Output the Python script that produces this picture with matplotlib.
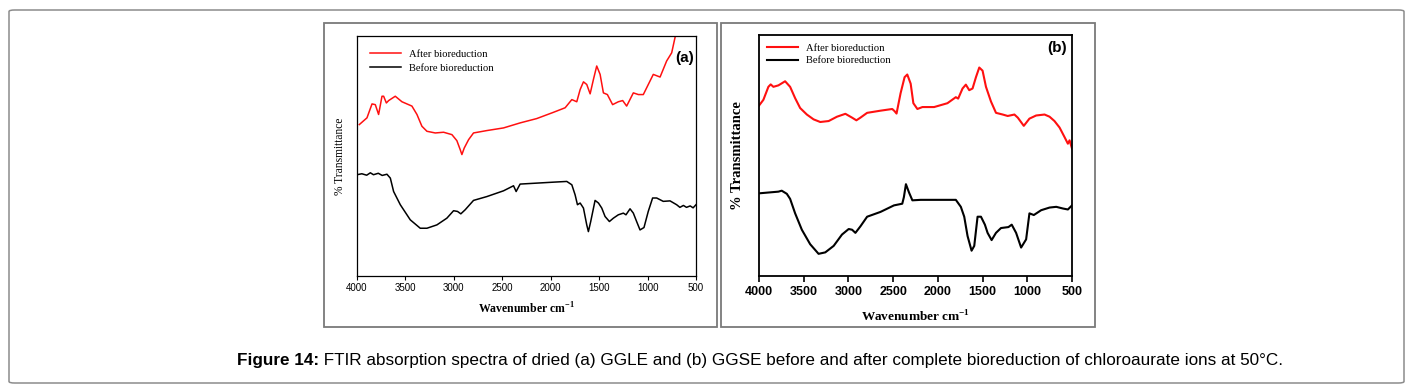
import numpy as np
import matplotlib
matplotlib.use('Agg')
import matplotlib.pyplot as plt
from matplotlib.patches import Rectangle, FancyBboxPatch
from matplotlib.transforms import offset_copy

# ---- data (arbitrary transmittance units) ----
# panel (a) GGLE
wn_a_after = [3976, 3897, 3845, 3811, 3777, 3742, 3725, 3697, 3673, 3605, 3536, 3433,
              3381, 3330, 3278, 3192, 3106, 3020, 2969, 2934, 2917, 2893, 2848, 2797,
              2659, 2487, 2315, 2144, 1972, 1851, 1782, 1731, 1696, 1662, 1628, 1593,
              1559, 1525, 1490, 1456, 1415, 1361, 1302, 1257, 1216, 1147, 1095, 1044,
              941, 871, 803, 751, 717, 693]
t_a_after = [63.1, 65.9, 71.7, 71.4, 67.3, 74.9, 74.9, 72.1, 73.1, 74.9, 72.6, 70.8,
             67.3, 62.4, 60.3, 59.6, 59.9, 58.9, 56.4, 52.6, 50.6, 53.3, 56.8, 59.6,
             60.6, 61.7, 63.8, 65.6, 68.2, 70.1, 73.5, 72.6, 77.7, 80.9, 79.8, 75.9,
             81.9, 87.5, 84.0, 76.3, 75.6, 71.4, 72.6, 73.1, 70.8, 76.3, 75.6, 75.6,
             84.0, 82.9, 89.6, 93.0, 99.3, 103.0]

wn_a_before = [4000, 3950, 3900, 3862, 3830, 3780, 3740, 3691, 3656, 3622, 3553, 3450,
               3347, 3278, 3175, 3072, 3003, 2962, 2928, 2883, 2797, 2659, 2487, 2384,
               2357, 2316, 2144, 1972, 1834, 1782, 1748, 1724, 1696, 1662, 1628, 1611,
               1587, 1542, 1507, 1473, 1439, 1394, 1353, 1302, 1250, 1223, 1181, 1147,
               1113, 1078, 1037, 993, 948, 906, 838, 768, 700, 666, 630, 598, 560, 530, 500]
t_a_before = [42.2, 42.6, 42.0, 43.0, 42.2, 42.8, 41.9, 42.4, 40.8, 35.2, 29.7, 23.4,
              19.9, 19.9, 21.3, 24.1, 27.2, 26.9, 25.9, 27.6, 31.5, 33.1, 35.5, 37.6,
              35.2, 38.3, 38.7, 39.1, 39.4, 38.0, 33.8, 29.7, 30.4, 28.3, 21.3, 18.5,
              22.7, 31.5, 30.4, 28.3, 24.8, 22.7, 24.1, 25.5, 26.2, 25.5, 28.0, 26.2,
              22.7, 19.2, 20.2, 26.9, 32.5, 32.5, 31.1, 31.3, 29.7, 28.6, 29.4, 28.6,
              29.2, 28.4, 29.7]

# panel (b) GGSE
wn_b_after = [4000, 3951, 3895, 3869, 3839, 3783, 3708, 3652, 3596, 3540, 3465, 3390,
              3315, 3221, 3128, 3034, 2959, 2911, 2866, 2791, 2641, 2510, 2484, 2462,
              2417, 2372, 2342, 2304, 2274, 2229, 2173, 2042, 1893, 1799, 1773, 1724,
              1687, 1649, 1612, 1574, 1537, 1500, 1462, 1406, 1350, 1275, 1219, 1144,
              1106, 1039, 976, 901, 807, 751, 696, 639, 583, 546, 527, 500]
t_b_after = [70.7, 73.1, 78.5, 79.5, 78.5, 79.1, 80.8, 78.5, 73.8, 69.7, 67.0, 65.0,
             63.9, 64.3, 66.1, 67.3, 65.7, 64.6, 65.7, 67.7, 68.6, 69.3, 68.4, 67.4,
             75.8, 82.5, 83.6, 79.8, 71.7, 69.3, 70.1, 70.1, 71.7, 74.2, 73.6, 77.8,
             79.4, 77.1, 77.8, 82.5, 86.5, 85.2, 78.5, 72.4, 67.7, 67.0, 66.4, 67.0,
             65.7, 62.3, 65.3, 66.6, 67.0, 66.1, 64.3, 61.6, 57.6, 54.9, 56.3, 52.9]

wn_b_before = [4000, 3876, 3783, 3746, 3689, 3652, 3596, 3521, 3428, 3334, 3259, 3165,
               3072, 2997, 2959, 2922, 2866, 2791, 2641, 2491, 2398, 2380, 2357, 2323,
               2285, 2192, 2005, 1799, 1743, 1705, 1668, 1623, 1593, 1556, 1518, 1474,
               1444, 1399, 1350, 1294, 1211, 1174, 1125, 1069, 1013, 976, 927, 845,
               751, 676, 601, 546, 500]
t_b_before = [34.3, 34.7, 35.0, 35.4, 34.1, 32.0, 26.0, 19.2, 13.2, 9.2, 9.8, 12.5,
              17.2, 19.5, 19.2, 17.9, 20.6, 24.6, 26.6, 29.3, 30.0, 32.7, 38.1, 34.7,
              31.4, 31.6, 31.6, 31.6, 28.7, 24.6, 16.6, 10.5, 12.5, 24.6, 24.6, 21.3,
              17.9, 14.9, 17.9, 19.9, 20.3, 21.3, 17.9, 11.8, 15.2, 26.0, 25.3, 27.3,
              28.4, 28.7, 28.0, 27.6, 29.3]

xticks = [4000, 3500, 3000, 2500, 2000, 1500, 1000, 500]
legend_labels = ['After bioreduction', 'Before bioreduction']

serif = 'Liberation Serif'
sans = 'Liberation Sans'
plt.rcParams['mathtext.fontset'] = 'custom'
plt.rcParams['mathtext.rm'] = serif
plt.rcParams['mathtext.bf'] = serif + ':bold'

W, H = 1412, 389
fig = plt.figure(figsize=(W / 100, H / 100), dpi=100)


def px_rect(x0, y0, x1, y1):
    # pixel box (top-left origin) -> figure fraction
    return [x0 / W, 1 - y1 / H, (x1 - x0) / W, (y1 - y0) / H]


# outer rounded frame and panel boxes
fig.patches.append(FancyBboxPatch((9 / W, 1 - 383 / H), 1395 / W, 373 / H,
                                  boxstyle='round,pad=0,rounding_size=0.004',
                                  transform=fig.transFigure, fill=False,
                                  edgecolor='#8c8c8c', linewidth=1.1))
for x0, x1 in [(324, 717), (721, 1095)]:
    r = px_rect(x0, 23, x1, 327)
    fig.patches.append(Rectangle((r[0], r[1]), r[2], r[3], transform=fig.transFigure,
                                 fill=False, edgecolor='#7a7a7a', linewidth=1.3))

# ---- panel (a) ----
ax = fig.add_axes(px_rect(357, 36, 696, 276))
ax.plot(wn_a_after, t_a_after, color='#ff1010', lw=1.1, label=legend_labels[0])
ax.plot(wn_a_before, t_a_before, color='black', lw=1.1, label=legend_labels[1])
ax.set_xlim(4000, 500)
ax.set_ylim(0, 100)
ax.set_xticks(xticks)
ax.set_yticks([])
ax.tick_params(axis='x', direction='out', length=3, width=0.8, pad=2, labelsize=7)
for lbl in ax.get_xticklabels():
    lbl.set_fontfamily(sans)
for s in ax.spines.values():
    s.set_linewidth(0.9)
ax.set_xlabel('Wavenumber cm$^{\\mathbf{-1}}$', fontfamily=serif, fontweight='bold',
              fontsize=8.5, labelpad=6)
ax.set_ylabel('% Transmittance', fontfamily=serif, fontsize=8.3, labelpad=8)
ax.legend(loc='upper left', bbox_to_anchor=(0.0, 1.0), frameon=False,
          prop={'family': serif, 'size': 7.6}, handlelength=2.9, handletextpad=0.75,
          labelspacing=0.45, borderaxespad=0.85)
ax.text(0.995, 0.91, '(a)', transform=ax.transAxes, ha='right', va='center',
        fontfamily=sans, fontweight='bold', fontsize=11)

# ---- panel (b) ----
bx = fig.add_axes(px_rect(759, 35, 1072, 276))
bx.plot(wn_b_after, t_b_after, color='#ff1010', lw=1.5, label=legend_labels[0])
bx.plot(wn_b_before, t_b_before, color='black', lw=1.5, label=legend_labels[1])
bx.set_xlim(4000, 500)
bx.set_ylim(0, 100)
bx.set_xticks(xticks)
bx.set_yticks([])
bx.tick_params(axis='x', direction='out', length=4, width=1.2, pad=3, labelsize=9)
for lbl in bx.get_xticklabels():
    lbl.set_fontfamily(sans)
    lbl.set_fontweight('bold')
for s in bx.spines.values():
    s.set_linewidth(1.3)
bx.set_xlabel('Wavenumber cm$^{\\mathbf{-1}}$', fontfamily=serif, fontweight='bold',
              fontsize=9.5, labelpad=8)
bx.set_ylabel('% Transmittance', fontfamily=serif, fontweight='bold', fontsize=10.5,
              labelpad=11)
bx.legend(loc='upper left', bbox_to_anchor=(0.0, 1.0), frameon=False,
          prop={'family': serif, 'size': 7.6}, handlelength=2.9, handletextpad=0.75,
          labelspacing=0.3, borderaxespad=0.4)
bx.text(0.985, 0.945, '(b)', transform=bx.transAxes, ha='right', va='center',
        fontfamily=sans, fontweight='bold', fontsize=11)

# ---- caption (bold lead-in followed by plain text) ----
cap_bold = 'Figure 14:'
cap_rest = (' FTIR absorption spectra of dried (a) GGLE and (b) GGSE before and after '
            'complete bioreduction of chloroaurate ions at 50°C.')
t1 = fig.text(237 / W, 1 - 360 / H, cap_bold, ha='left', va='center',
              fontfamily=sans, fontweight='bold', fontsize=12.3)
renderer = fig.canvas.get_renderer()
w1 = t1.get_window_extent(renderer).width
fig.text(237 / W, 1 - 360 / H, cap_rest, ha='left', va='center', fontfamily=sans,
         fontsize=12.3, transform=offset_copy(fig.transFigure, fig=fig, x=w1 * 72 / fig.dpi,
                                              units='points'))

fig.savefig('out.png', dpi=100)
